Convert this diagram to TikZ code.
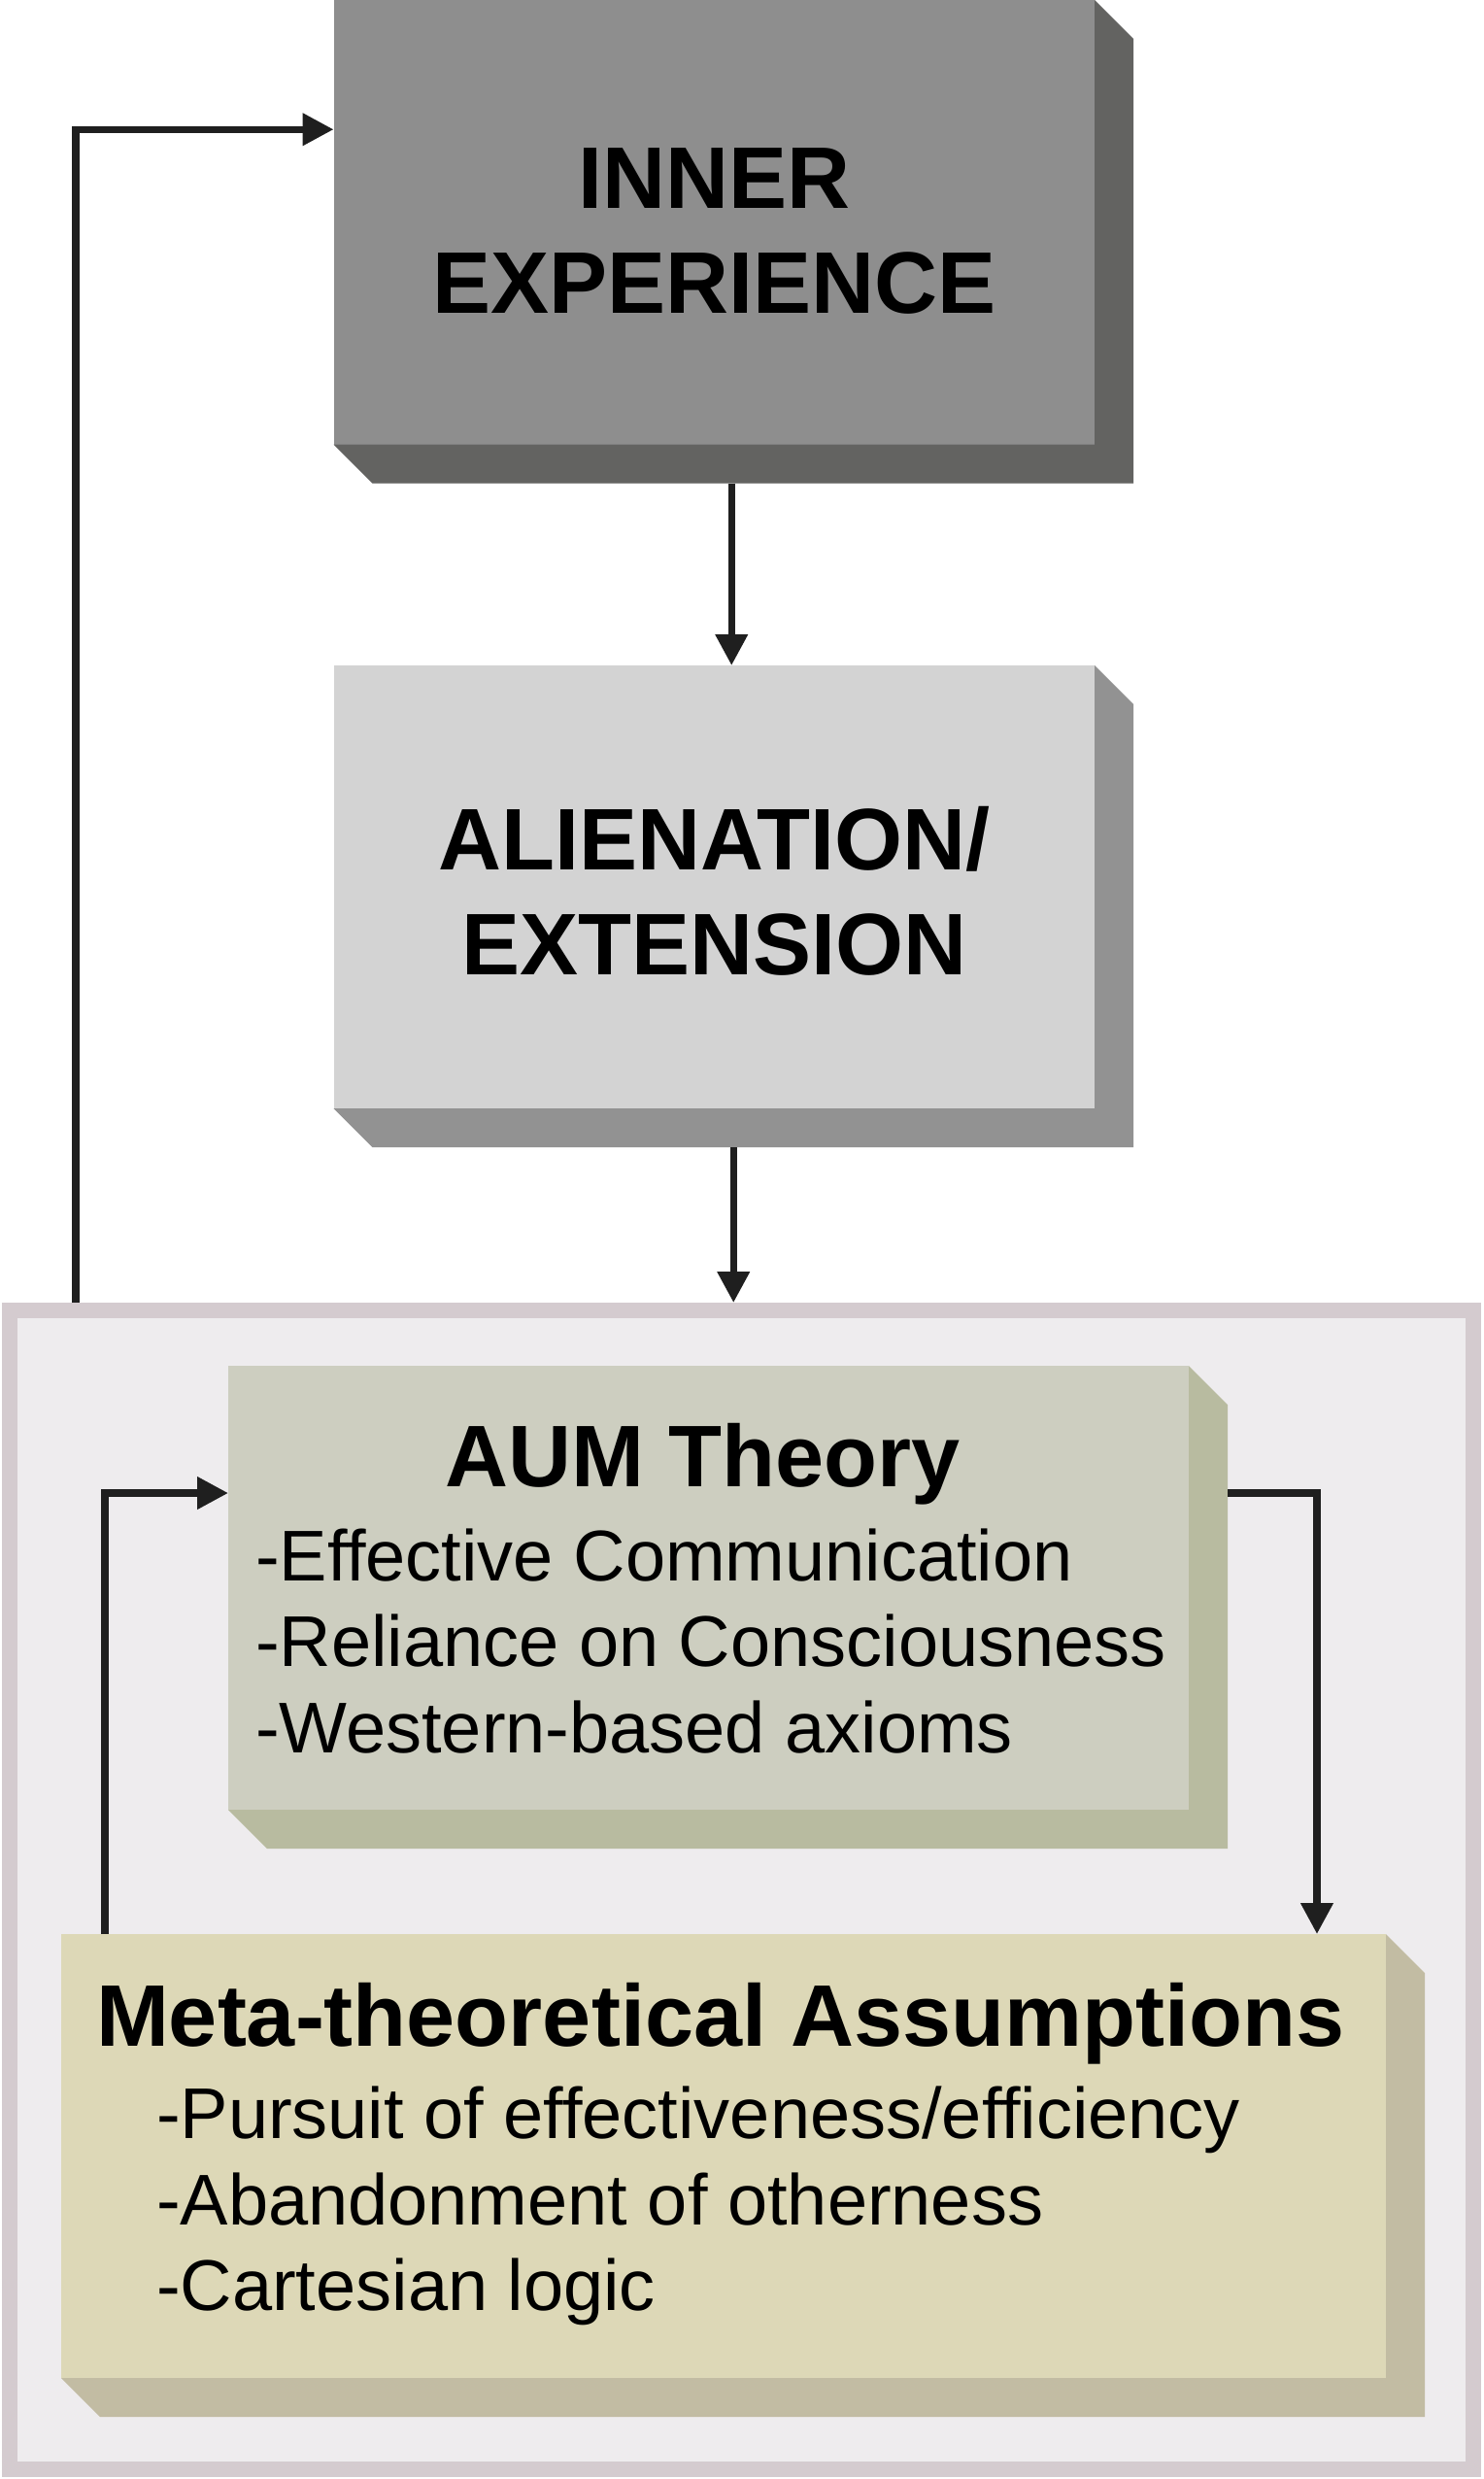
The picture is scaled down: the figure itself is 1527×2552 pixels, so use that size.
\documentclass[tikz,border=0pt]{standalone}
\usepackage{fontspec}
\setmainfont{Liberation Sans}
\usetikzlibrary{arrows.meta,calc}
\definecolor{innerfront}{HTML}{8E8E8E}
\definecolor{innershade}{HTML}{636361}
\definecolor{alienfront}{HTML}{D3D3D3}
\definecolor{alienshade}{HTML}{929292}
\definecolor{aumfront}{HTML}{CDCEC0}
\definecolor{aumshade}{HTML}{B8BBA0}
\definecolor{metafront}{HTML}{DDD8B7}
\definecolor{metashade}{HTML}{C2BCA3}
\definecolor{framebd}{HTML}{D4CBCF}
\definecolor{framebg}{HTML}{EEECEE}
\definecolor{conncol}{HTML}{1F1F1F}
\newcommand\boxshadow[2]{\fill[#2] (#1.north east) -- ++(40,40) -- ($(#1.south east)+(40,40)$) -- ($(#1.south west)+(40,40)$) -- (#1.south west) -- (#1.south east) -- cycle;}
\begin{document}
\begin{tikzpicture}[x=1pt,y=-1pt,
  boxnode/.style={rectangle, inner sep=0, outer sep=0, anchor=north west},
  txt/.style={inner sep=0, outer sep=0},
  titlefont/.style={font=\fontsize{90}{108}\selectfont\bfseries},
  bodyfont/.style={font=\fontsize{74}{88}\selectfont},
  conn/.style={draw=conncol, line width=7.3pt, -{Triangle[length=32pt,width=32pt]}}]
\fill[white] (0,0) rectangle (1527,2552);
\useasboundingbox (0,0) rectangle (1527,2552);

% container
\node[draw=framebd, fill=framebg, line width=16pt, minimum width=1507pt, minimum height=1193pt, inner sep=0] (frame) at (763.5,1945.5) {};

% boxes
\node[boxnode, fill=innerfront, minimum width=783.5pt, minimum height=457.5pt] (inner) at (343.5,0) {};
\boxshadow{inner}{innershade}
\node[boxnode, fill=alienfront, minimum width=783.5pt, minimum height=456pt] (alien) at (343.5,685) {};
\boxshadow{alien}{alienshade}
\node[boxnode, fill=aumfront, minimum width=989pt, minimum height=457pt] (aum) at (235,1406) {};
\boxshadow{aum}{aumshade}
\node[boxnode, fill=metafront, minimum width=1364pt, minimum height=457pt] (meta) at (63,1991) {};
\boxshadow{meta}{metashade}

% texts
\node[txt, titlefont, anchor=base] (t1) at (735.5,214) {INNER};
\node[txt, titlefont, anchor=base] (t2) at (735.5,322) {EXPERIENCE};
\node[txt, titlefont, anchor=base] (t3) at (735.5,895.5) {ALIENATION/};
\node[txt, titlefont, anchor=base] (t4) at (735.5,1003.5) {EXTENSION};
\node[txt, titlefont, anchor=base] (t5) at (724,1530) {AUM Theory};
\node[txt, bodyfont, anchor=base west] (t6) at (263,1627) {-Effective Communication};
\node[txt, bodyfont, anchor=base west] (t7) at (263,1715) {-Reliance on Consciousness};
\node[txt, bodyfont, anchor=base west] (t8) at (263,1804) {-Western-based axioms};
\node[txt, titlefont, anchor=base west] (t9) at (99,2106) {Meta-theoretical Assumptions};
\node[txt, bodyfont, anchor=base west] (t10) at (161,2201) {-Pursuit of effectiveness/efficiency};
\node[txt, bodyfont, anchor=base west] (t11) at (161,2290) {-Abandonment of otherness};
\node[txt, bodyfont, anchor=base west] (t12) at (161,2378) {-Cartesian logic};

% connectors
\coordinate (a1) at ([xshift=18pt,yshift=-40pt]inner.south);
\draw[conn] (a1) -- (a1 |- alien.north);
\coordinate (a2) at ([xshift=20pt,yshift=-40pt]alien.south);
\draw[conn] (a2) -- (a2 |- frame.north);
\coordinate (lx) at (78,0);
\draw[conn] (lx |- frame.north) |- ([yshift=95.5pt]inner.west);
\coordinate (lx2) at (108,0);
\draw[conn] (lx2 |- meta.north) |- ([yshift=97.5pt]aum.west);
\coordinate (rx) at (1356,0);
\draw[conn] ([xshift=40pt,yshift=97.5pt]aum.east) -| (rx |- meta.north);
\end{tikzpicture}
\end{document}
